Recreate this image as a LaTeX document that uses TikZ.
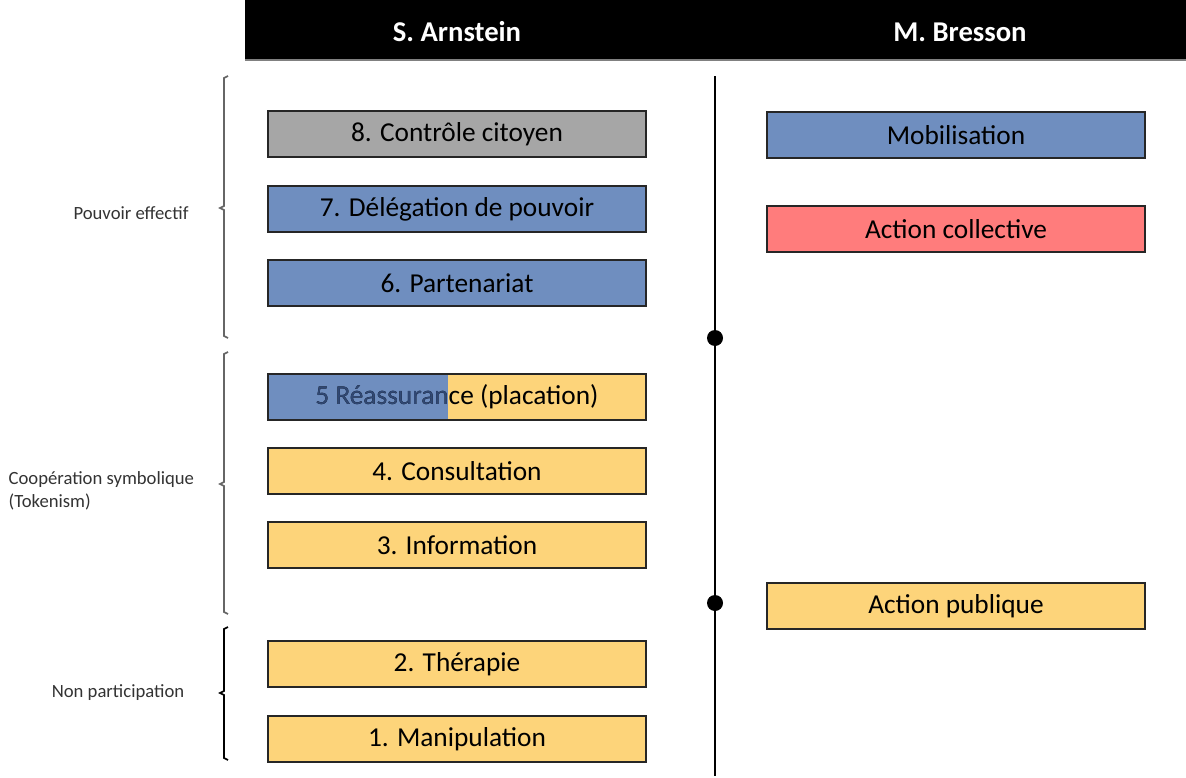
\documentclass[tikz,border=0pt]{standalone}
\usepackage{fontspec}
\setmainfont{Carlito}
\usepackage{tikz}
\usetikzlibrary{positioning}
\definecolor{bleu}{RGB}{111,142,191}
\definecolor{gris}{RGB}{166,166,166}
\definecolor{jaune}{RGB}{253,212,122}
\definecolor{rouge}{RGB}{255,124,124}
\definecolor{encre}{RGB}{48,72,116}

\begin{document}
\begin{tikzpicture}[x=0.75pt,y=-0.75pt]
	\tikzstyle{case}=[rectangle,draw=black!85,line width=1pt,minimum width=283.5pt,minimum height=34.5pt,inner sep=0pt,font=\fontsize{20.5}{24}\selectfont]
	\tikzstyle{titre}=[text=white,font=\fontsize{21.5}{25}\selectfont\bfseries]
	\tikzstyle{groupe}=[font=\fontsize{14}{17}\selectfont,text=black!80,align=left]
	\tikzstyle{crochet}=[line width=1.3pt,gray!80!black]
	\tikzstyle{point}=[circle,fill=black,inner sep=0pt,minimum size=12pt]
	\useasboundingbox (0,0) rectangle (1186,778);
	% bandeau
	\fill[black] (245,0) rectangle (1186,60);
	\draw[gray,line width=1pt] (245,60) -- (1186,60);
	\node[titre] (SA) at (457,32){S. Arnstein};
	\node[titre] (MB) at (960,32){M. Bresson};
	% echelle d'Arnstein
	\node[case,fill=gris] (H) at (457,134){8. Contrôle citoyen};
	\node[case,fill=bleu] (G) at (457,209){7. Délégation de pouvoir};
	\node[case,fill=bleu] (F) at (457,283){6. Partenariat};
	\node[case,fill=jaune,path picture={\fill[bleu] (path picture bounding box.north west) rectangle ([xshift=135pt]path picture bounding box.south west);}] (E) at (457,397){5 Réassurance (placation)};
	\begin{scope}
		\clip (268,374) rectangle (448,420);
		\node[case,draw=none,text=encre] at (457,397){5 Réassurance (placation)};
	\end{scope}
	\node[case,fill=jaune] (D) at (457,471){4. Consultation};
	\node[case,fill=jaune] (C) at (457,545){3. Information};
	\node[case,fill=jaune] (B) at (457,664){2. Thérapie};
	\node[case,fill=jaune] (A) at (457,739){1. Manipulation};
	% Bresson
	\node[case,fill=bleu] (M) at (956,135){Mobilisation};
	\node[case,fill=rouge] (AC) at (956,229){Action collective};
	\node[case,fill=jaune] (AP) at (956,606){Action publique};
	% axe
	\coordinate (haut) at (715,76);
	\coordinate (bas) at (715,776);
	\draw[line width=1.2pt] (haut) -- (bas);
	\node[point] (P1) at (715,338){};
	\node[point] (P2) at (715,603){};
	% crochets
	\draw[crochet] (228,76) -- (224,78) -- (224,206) -- (220,208) -- (224,210) -- (224,336) -- (228,338);
	\draw[crochet] (228,352) -- (224,354) -- (224,482) -- (220,484) -- (224,486) -- (224,612) -- (228,614);
	\draw[crochet,black] (228,627) -- (224,629) -- (224,691) -- (220,693) -- (224,695) -- (224,758) -- (228,760);
	\node[groupe] (PE) at (131,213){Pouvoir effectif};
	\node[groupe,anchor=west] (CS) at (4,491){Coopération symbolique\\(Tokenism)};
	\node[groupe] (NP) at (118,693){Non participation};
\end{tikzpicture}
\end{document}
